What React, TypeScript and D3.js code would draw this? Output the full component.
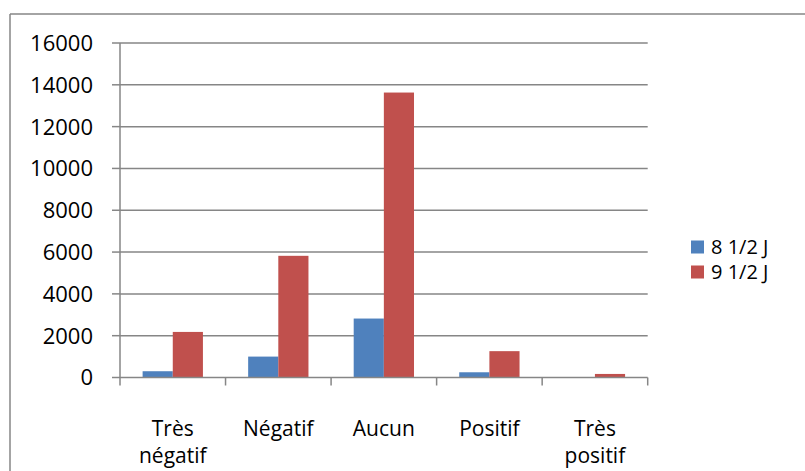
import React, { useEffect, useRef } from "react";
import * as d3 from "d3";

const categories = ["Très négatif", "Négatif", "Aucun", "Positif", "Très positif"];
const seriesNames = ["8 1/2 J", "9 1/2 J"];
const series1 = [300, 1000, 2820, 250, 10];
const series2 = [2180, 5820, 13630, 1260, 170];
const yTicks = [0, 2000, 4000, 6000, 8000, 10000, 12000, 14000, 16000];
const colors = ["#4F81BD", "#C0504D"];

const W = 805;
const H = 471;
const FONT = "'Open Sans', 'Liberation Sans', sans-serif";
const GRAY = "#868686";

export default function App() {
  const ref = useRef<SVGSVGElement>(null);

  useEffect(() => {
    document.body.style.margin = "0";
    const svg = d3.select(ref.current);
    svg.selectAll("*").remove();

    const left = 120, right = 647.7, top = 43, bottom = 377.5;

    const x = d3.scaleBand<string>().domain(categories).range([left, right]).paddingInner(0).paddingOuter(0);
    const xs = d3.scaleBand<number>().domain([0, 1]).range([0, x.bandwidth()]).paddingInner(0).paddingOuter(0.75);
    const y = d3.scaleLinear().domain([0, 16000]).range([bottom, top]);

    // outer border (top + left)
    svg.append("line").attr("x1", 10).attr("x2", W).attr("y1", 14).attr("y2", 14)
      .attr("stroke", GRAY).attr("stroke-width", 1.5);
    svg.append("line").attr("x1", 10).attr("x2", 10).attr("y1", 14).attr("y2", H)
      .attr("stroke", GRAY).attr("stroke-width", 1.5);

    // gridlines
    svg.append("g").selectAll("line").data(yTicks.filter((t) => t > 0)).join("line")
      .attr("x1", left).attr("x2", right)
      .attr("y1", (d) => y(d)).attr("y2", (d) => y(d))
      .attr("stroke", GRAY).attr("stroke-width", 1.5);

    // bars
    const data = [series1, series2];
    data.forEach((vals, si) => {
      svg.append("g").selectAll("rect").data(vals).join("rect")
        .attr("x", (_, i) => (x(categories[i]) as number) + (xs(si) as number))
        .attr("width", xs.bandwidth())
        .attr("y", (d) => y(d))
        .attr("height", (d) => y(0) - y(d))
        .attr("fill", colors[si]);
    });

    // y axis
    svg.append("line").attr("x1", left).attr("x2", left).attr("y1", top).attr("y2", bottom)
      .attr("stroke", GRAY).attr("stroke-width", 1.5);
    const yg = svg.append("g");
    yg.selectAll("line").data(yTicks).join("line")
      .attr("x1", left - 8).attr("x2", left)
      .attr("y1", (d) => y(d)).attr("y2", (d) => y(d))
      .attr("stroke", GRAY).attr("stroke-width", 1.5);
    yg.selectAll("text").data(yTicks).join("text")
      .attr("x", 93).attr("y", (d) => y(d)).attr("dy", "0.36em")
      .attr("text-anchor", "end")
      .attr("font-family", FONT).attr("font-size", 22).attr("fill", "#000")
      .text((d) => String(d));

    // x axis
    svg.append("line").attr("x1", left).attr("x2", right).attr("y1", bottom).attr("y2", bottom)
      .attr("stroke", GRAY).attr("stroke-width", 1.5);
    const xTickPos = categories.map((c) => x(c) as number).concat([right]);
    svg.append("g").selectAll("line").data(xTickPos).join("line")
      .attr("x1", (d) => d).attr("x2", (d) => d)
      .attr("y1", bottom).attr("y2", bottom + 8)
      .attr("stroke", GRAY).attr("stroke-width", 1.5);

    const xl = svg.append("g");
    categories.forEach((c) => {
      const cx = (x(c) as number) + x.bandwidth() / 2;
      const words = c.split(" ");
      const lines = words.length > 1 ? words : [c];
      lines.forEach((ln, li) => {
        xl.append("text").attr("text-anchor", "middle")
          .attr("font-family", FONT).attr("font-size", 21).attr("fill", "#000")
          .attr("x", cx).attr("y", 436 + li * 27).text(ln);
      });
    });

    // legend
    const lg = svg.append("g");
    seriesNames.forEach((n, i) => {
      const cy = 247 + i * 25;
      lg.append("rect").attr("x", 691).attr("y", cy - 6.5).attr("width", 13).attr("height", 13).attr("fill", colors[i]);
      lg.append("text").attr("x", 711).attr("y", cy).attr("dy", "0.36em")
        .attr("font-family", FONT).attr("font-size", 20).attr("fill", "#000").text(n);
    });
  }, []);

  return <svg ref={ref} width={W} height={H} style={{ display: "block", background: "#fff" }} />;
}
